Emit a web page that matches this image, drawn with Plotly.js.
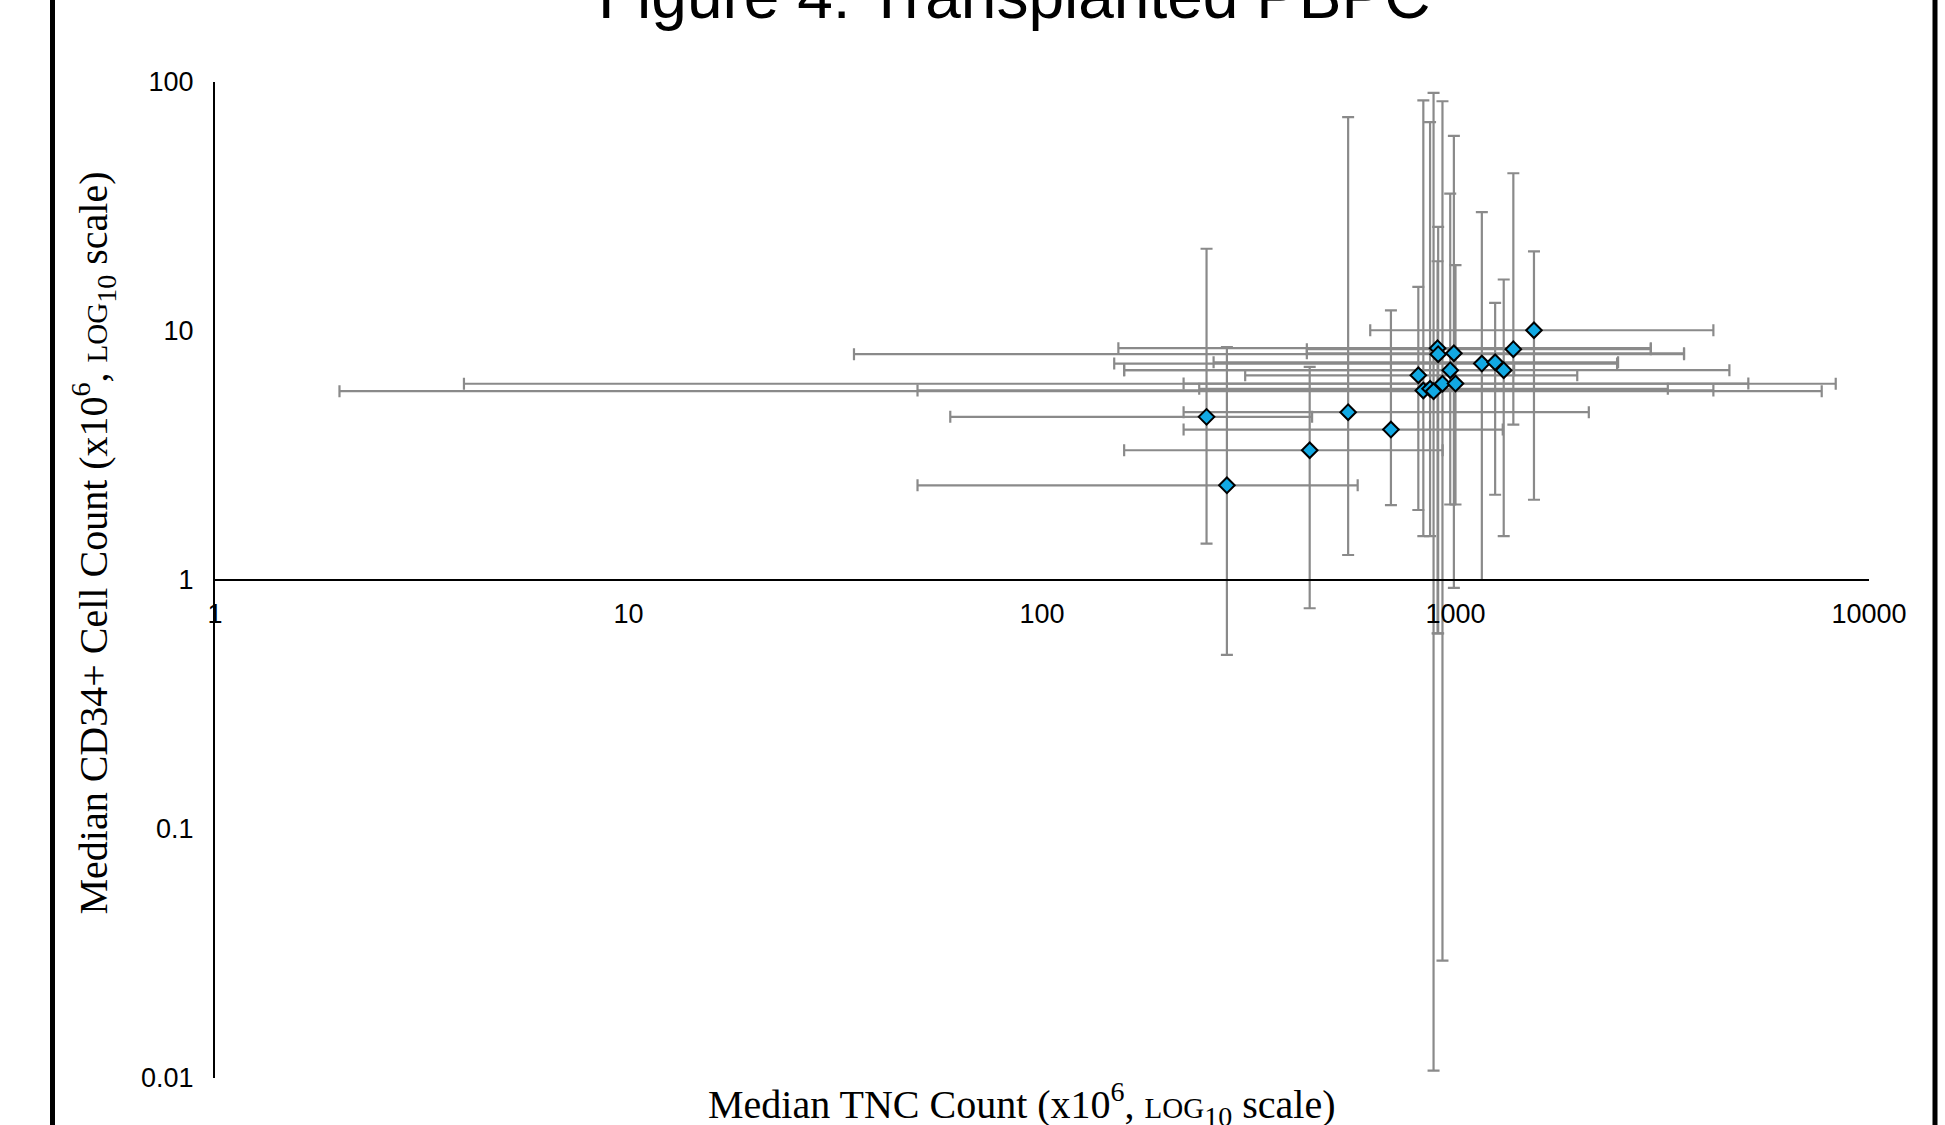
<!DOCTYPE html>
<html><head><meta charset="utf-8">
<script src="https://cdn.plot.ly/plotly-3.0.1.min.js"></script>
<style>html,body{margin:0;padding:0;background:#fff;overflow:hidden}#chart{width:1945px;height:1125px;}</style>
</head><body><div id="chart"></div>
<script>
// Median TNC count (x10^6) with range
const tnc    = [250, 280, 444, 550, 698, 813, 836, 868, 885, 905, 908, 930, 971, 991, 1000, 1158, 1247, 1308, 1380, 1548];
const tncLow = [60, 50, 158, 220, 220, 310, 50, 240, 2.0, 153, 35.1, 4.0, 158, 437, 220, 149.5, 260, 158, 437, 622];
const tncHigh= [450, 580, 931, 2101, 1301, 1970, 4204, 3262, 7685, 2967, 3570, 8309, 1386, 3570, 5107, 2459, 2473, 4596, 2967, 4204];
// Median CD34+ count (x10^6) with range
const cd34    = [4.52, 2.40, 3.32, 4.72, 4.02, 6.64, 5.77, 5.86, 5.73, 8.53, 8.07, 6.14, 6.96, 8.14, 6.15, 7.40, 7.49, 6.96, 8.45, 10.07];
const cd34Low = [1.40, 0.50, 0.77, 1.26, 2.0, 1.91, 1.50, 1.50, 0.0107, 0.61, 0.61, 0.0296, 2.01, 0.93, 2.01, 1.0, 2.2, 1.5, 4.21, 2.1];
const cd34High= [21.4, 8.61, 7.18, 72.2, 12.1, 15.05, 84.3, 69, 90.5, 19.06, 26.2, 83.7, 35.6, 60.8, 18.4, 30.0, 12.98, 16.1, 43, 20.9];

const xTickVals = [1, 10, 100, 1000, 10000];
const xTickText = ['1', '10', '100', '1000', '10000'];
const yTickVals = [0.01, 0.1, 1, 10, 100];
const yTickText = ['0.01', '0.1', '1', '10', '100'];

const W = 1945, H = 1125;
const mL = 215, mR = 76, mT = 82, mB = 47;
const pw = W - mL - mR, ph = H - mT - mB;
const px = x => (x - mL) / pw;
const py = y => (H - mB - y) / ph;

const trace = {
  type: 'scatter', mode: 'markers',
  x: tnc, y: cd34,
  marker: {symbol: 'diamond', size: 12, color: '#12a9e3', line: {color: '#000', width: 2}},
  error_x: {type: 'data', symmetric: false,
    array: tnc.map((v, i) => tncHigh[i] - v),
    arrayminus: tnc.map((v, i) => v - tncLow[i]),
    color: '#8a8a8a', thickness: 2.2, width: 6},
  error_y: {type: 'data', symmetric: false,
    array: cd34.map((v, i) => cd34High[i] - v),
    arrayminus: cd34.map((v, i) => v - cd34Low[i]),
    color: '#8a8a8a', thickness: 2.2, width: 6},
  hoverinfo: 'x+y', showlegend: false
};

const tickFont = {family: 'Liberation Sans, Arial, sans-serif', size: 27, color: '#000'};
const serif = 'Liberation Serif, Times New Roman, serif';

const layout = {
  width: W, height: H,
  margin: {l: mL, r: mR, t: mT, b: mB},
  paper_bgcolor: '#fff', plot_bgcolor: 'rgba(0,0,0,0)',
  showlegend: false,
  xaxis: {type: 'log', range: [0, 4], anchor: 'free', position: 0.5,
    showline: true, linecolor: '#000', linewidth: 2, showgrid: false, zeroline: false,
    ticks: '', tickvals: xTickVals, ticktext: xTickText, tickfont: tickFont,
    ticklabelstandoff: 10},
  yaxis: {type: 'log', range: [-2, 2],
    showline: true, linecolor: '#000', linewidth: 2, showgrid: false, zeroline: false,
    ticks: '', tickvals: yTickVals, ticktext: yTickText, tickfont: tickFont,
    ticklabelstandoff: 14},
  shapes: [
    {type: 'line', xref: 'paper', yref: 'paper', x0: px(52.5), x1: px(52.5), y0: -0.2, y1: 1.2,
     line: {color: '#000', width: 5}},
    {type: 'line', xref: 'paper', yref: 'paper', x0: px(1935), x1: px(1935), y0: -0.2, y1: 1.2,
     line: {color: '#000', width: 5}}
  ],
  annotations: [
    {text: 'Figure 4: Transplanted PBPC', showarrow: false, xref: 'paper', yref: 'paper',
     x: px(1013.5), y: py(-4), xanchor: 'center', yanchor: 'middle',
     font: {family: 'Liberation Sans, Arial, sans-serif', size: 64, color: '#000'}},
    {text: 'Median TNC Count (x10<sup>6</sup>, <span style="font-size:29px">LOG</span><sub>10</sub> scale)',
     showarrow: false, xref: 'paper', yref: 'paper',
     x: px(1021.5), y: py(1104), xanchor: 'center', yanchor: 'middle',
     font: {family: serif, size: 40, color: '#000'}},
    {text: 'Median CD34+ Cell Count (x10<sup>6</sup>, <span style="font-size:29px">LOG</span><sub>10</sub> scale)',
     showarrow: false, xref: 'paper', yref: 'paper', textangle: -90,
     x: px(93.5), y: py(543), xanchor: 'center', yanchor: 'middle',
     font: {family: serif, size: 40, color: '#000'}}
  ]
};

Plotly.newPlot('chart', [trace], layout, {staticPlot: true, displayModeBar: false});
</script>
</body></html>
